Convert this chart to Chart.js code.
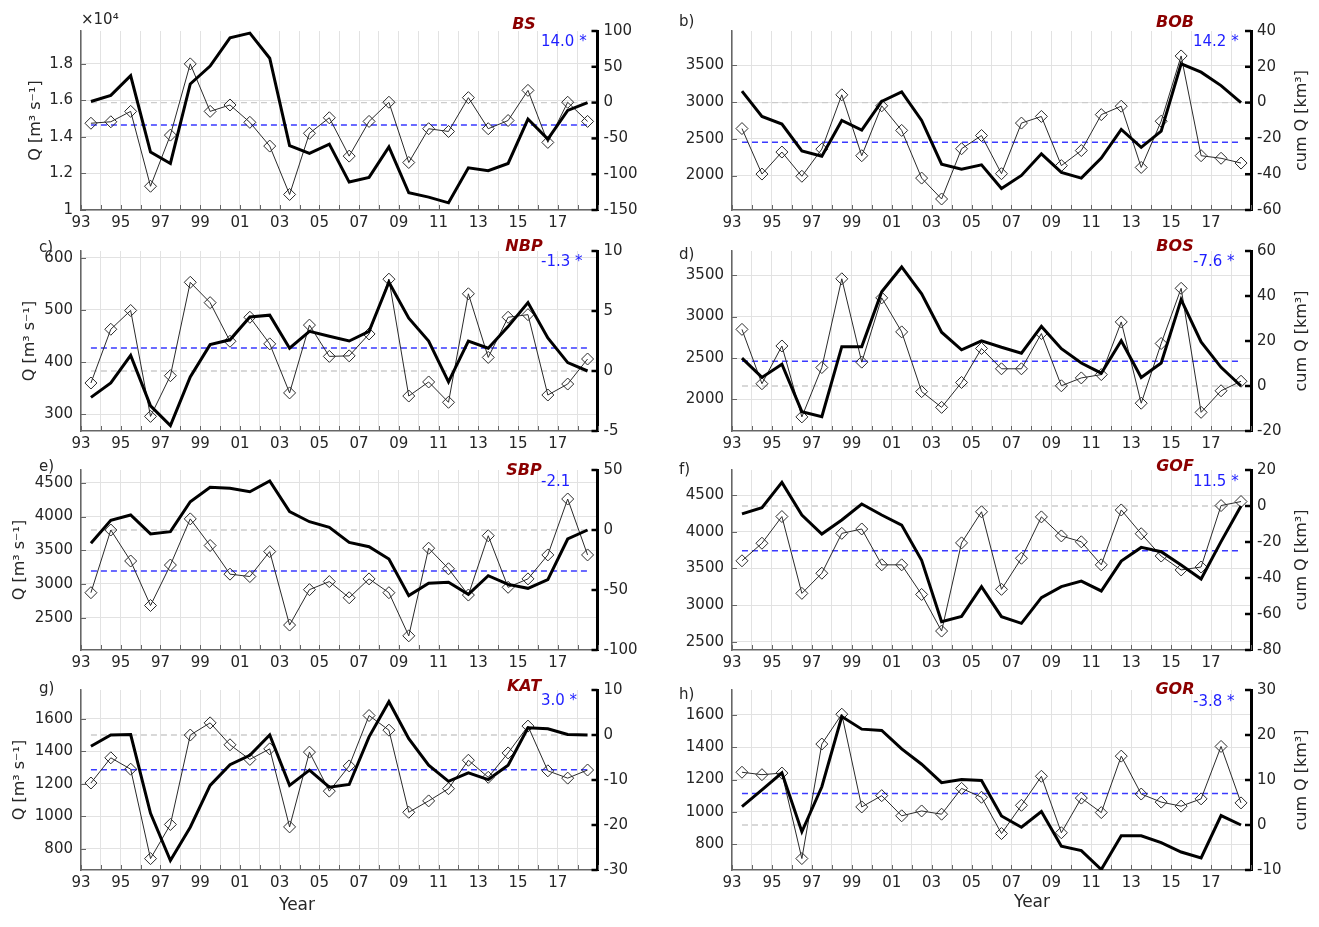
<!DOCTYPE html>
<html>
<head>
<meta charset="utf-8">
<script src="https://cdn.jsdelivr.net/npm/chart.js@4.4.1/dist/chart.umd.min.js"></script>
<style>
  html, body { margin: 0; padding: 0; background: #fff; }
  #fig { position: relative; width: 1319px; height: 927px; overflow: hidden; }
  #fig canvas { position: absolute; }
</style>
</head>
<body>
<div id="fig"></div>
<script>
'use strict'
{
  // ---- data ----
  const years = [1993, 1994, 1995, 1996, 1997, 1998, 1999, 2000, 2001, 2002, 2003, 2004, 2005,
                 2006, 2007, 2008, 2009, 2010, 2011, 2012, 2013, 2014, 2015, 2016, 2017, 2018];
  const xTickYears = [1993, 1994, 1995, 1996, 1997, 1998, 1999, 2000, 2001, 2002, 2003, 2004, 2005, 2006,
                      2007, 2008, 2009, 2010, 2011, 2012, 2013, 2014, 2015, 2016, 2017, 2018, 2019];
  const regions = ['BS', 'BOB', 'NBP', 'BOS', 'SBP', 'GOF', 'KAT', 'GOR'];
  const letters = ['', 'b)', 'c)', 'd)', 'e)', 'f)', 'g)', 'h)'];
  const trends = ['14.0 *', '14.2 *', '-1.3 *', '-7.6 *', '-2.1', '11.5 *', '3.0 *', '-3.8 *'];

  const qBS = [14750, 14830, 15400, 11300, 14100, 18000, 15400, 15750, 14800, 13500, 10850, 14200, 15050,
               12950, 14850, 15900, 12600, 14450, 14300, 16150, 14450, 14900, 16550, 13700, 15900, 14850];
  const cumBS = [1.5, 10, 37.5, -69, -85, 26, 51, 90.5, 97, 62, -60, -71, -58,
                 -111, -104.5, -62, -126, -132, -140, -91, -95, -85, -23, -51, -11, 0];
  const qBOB = [2640, 2020, 2320, 1990, 2360, 3100, 2270, 2950, 2615, 1965, 1680, 2365, 2545,
                2025, 2715, 2805, 2135, 2340, 2830, 2945, 2110, 2740, 3630, 2270, 2235, 2170];
  const cumBOB = [6.4, -7.7, -12, -27, -30, -10, -15.3, 0.7, 6, -10, -34.4, -37.2, -34.8,
                  -48, -40.7, -28.6, -39, -42.2, -31, -15, -25, -16, 21.7, 17, 9.5, 0];
  const qNBP = [360, 463, 499, 296, 374, 553, 514, 440, 486, 435, 341, 471, 411,
                412, 454, 559, 335, 362, 323, 531, 409, 486, 491, 337, 358, 406];
  const cumNBP = [-2.2, -1, 1.3, -2.9, -4.55, -0.5, 2.2, 2.6, 4.5, 4.65, 1.9, 3.3, 2.9,
                  2.5, 3.3, 7.4, 4.4, 2.5, -0.9, 2.5, 1.9, 3.7, 5.7, 2.75, 0.7, 0];
  const qBOS = [2845, 2190, 2645, 1790, 2385, 3455, 2450, 3225, 2815, 2095, 1905, 2205, 2615,
                2370, 2370, 2795, 2165, 2260, 2300, 2935, 1955, 2675, 3340, 1845, 2105, 2220];
  const cumBOS = [12.4, 3.8, 9.7, -11.4, -13.6, 17.5, 17.5, 41.9, 52.9, 41, 23.9, 16.1, 20.1,
                  17.2, 14.6, 26.5, 16.6, 10.2, 5.7, 20.1, 3.8, 10.2, 38.4, 19.6, 8.3, 0];
  const qSBP = [2870, 3800, 3340, 2680, 3280, 3965, 3570, 3145, 3110, 3480, 2390, 2915, 3035,
                2795, 3075, 2870, 2230, 3530, 3225, 2835, 3715, 2950, 3075, 3430, 4260, 3430];
  const cumSBP = [-11.1, 8.1, 12.5, -3.3, -1.4, 23.6, 35.6, 34.7, 31.9, 40.8, 15.3, 6.9, 2.2,
                  -10.3, -13.9, -24.2, -54.7, -44.4, -43.6, -53.6, -38.1, -45.3, -48.6, -41.4, -7.5, 0];
  const qGOF = [3605, 3845, 4210, 3160, 3435, 3980, 4040, 3550, 3550, 3145, 2645, 3850, 4275,
                3215, 3640, 4205, 3945, 3865, 3550, 4300, 3975, 3670, 3480, 3520, 4360, 4415];
  const cumGOF = [-4.4, -0.9, 13.1, -5, -15.6, -7.8, 1.1, -5, -10.6, -30.2, -64.3, -61.3, -44.8,
                  -61.5, -65.2, -50.9, -44.8, -41.7, -47.2, -30.6, -23, -25.4, -32.8, -40.6, -19.8, 0];
  const qKAT = [1205, 1360, 1290, 740, 950, 1500, 1575, 1440, 1350, 1415, 935, 1395, 1155,
                1310, 1620, 1530, 1025, 1095, 1170, 1345, 1240, 1390, 1555, 1280, 1235, 1285];
  const cumKAT = [-2.5, 0, 0.1, -17.4, -27.9, -20.5, -11.2, -6.6, -4.5, 0, -11.2, -7.8, -11.6,
                  -11, -0.4, 7.4, -0.8, -6.7, -10.3, -8.4, -9.9, -6.7, 1.6, 1.4, 0.1, 0];
  const qGOR = [1245, 1230, 1240, 710, 1420, 1605, 1030, 1100, 975, 1005, 985, 1145, 1090,
                865, 1040, 1220, 870, 1085, 995, 1345, 1110, 1060, 1035, 1080, 1405, 1055];
  const cumGOR = [4.1, 7.8, 11.6, -1.5, 8.5, 24.1, 21.3, 21, 16.9, 13.5, 9.4, 10.1, 9.9,
                  2, -0.5, 3, -4.7, -5.7, -9.9, -2.4, -2.4, -3.9, -6, -7.3, 2.1, 0];

  const qSeries = [qBS, qBOB, qNBP, qBOS, qSBP, qGOF, qKAT, qGOR];
  const cumSeries = [cumBS, cumBOB, cumNBP, cumBOS, cumSBP, cumGOF, cumKAT, cumGOR];
  const meanQ = [14650, 2452, 427, 2460, 3193, 3744, 1287, 1114];

  const qLimits = [[10000, 19800], [1530, 3970], [268, 613], [1620, 3790],
                   [2020, 4690], [2386, 4846], [670, 1777], [639, 1755]];
  const qTicks = [[10000, 12000, 14000, 16000, 18000], [2000, 2500, 3000, 3500],
                  [300, 400, 500, 600], [2000, 2500, 3000, 3500],
                  [2500, 3000, 3500, 4000, 4500], [2500, 3000, 3500, 4000, 4500],
                  [800, 1000, 1200, 1400, 1600], [800, 1000, 1200, 1400, 1600]];
  const cumLimits = [[-150, 100], [-60, 40], [-5, 10], [-20, 60],
                     [-100, 50], [-80, 20], [-30, 10], [-10, 30]];
  const cumTicks = [[-150, -100, -50, 0, 50, 100], [-60, -40, -20, 0, 20, 40],
                    [-5, 0, 5, 10], [-20, 0, 20, 40, 60],
                    [-100, -50, 0, 50], [-80, -60, -40, -20, 0, 20],
                    [-30, -20, -10, 0, 10], [-10, 0, 10, 20, 30]];

  // ---- layout (page pixels) ----
  const COLS = [{x0: 0, w: 660, left: 81, right: 597.5}, {x0: 660, w: 659, left: 732, right: 1251}];
  const ROWS = [{top: 31, bottom: 210}, {top: 251, bottom: 431}, {top: 470, bottom: 650}, {top: 690, bottom: 870}];
  const TEXTPOS = [
    {name: [524, 25], trend: [541, 42], letter: null, ylab: 36, exp: [81, 20]},
    {name: [1175, 23], trend: [1193, 42], letter: [679, 22]},
    {name: [524, 247], trend: [541, 262], letter: [39, 248], ylab: 30},
    {name: [1175, 247], trend: [1193, 262], letter: [679, 255]},
    {name: [524, 471], trend: [541, 482], letter: [39, 467], ylab: 20},
    {name: [1175, 467], trend: [1193, 482], letter: [679, 470]},
    {name: [524, 687], trend: [541, 701], letter: [39, 689], ylab: 20, xlab: [297, 906]},
    {name: [1175, 690], trend: [1193, 702], letter: [679, 695], xlab: [1032, 903]},
  ];

  const FONT = '"DejaVu Sans", "Liberation Sans", sans-serif';
  const TXT = '#262626';
  const fig = document.getElementById('fig');

  // inward ticks, axis titles and labels drawn on top
  const decor = {
    id: 'decor',
    afterDraw(chart, args, o) {
      const {ctx, chartArea: a, scales} = chart;
      const ox = o.ox, oy = o.oy, t = o.t;
      ctx.save();
      ctx.strokeStyle = '#666';
      ctx.lineWidth = 1;
      scales.x.ticks.forEach(tk => {
        const px = Math.round(scales.x.getPixelForValue(tk.value)) + 0.5;
        ctx.beginPath(); ctx.moveTo(px, a.bottom); ctx.lineTo(px, a.bottom - 5); ctx.stroke();
      });
      scales.y.ticks.forEach(tk => {
        const py = Math.round(scales.y.getPixelForValue(tk.value)) + 0.5;
        ctx.beginPath(); ctx.moveTo(a.left, py); ctx.lineTo(a.left + 5, py); ctx.stroke();
      });
      ctx.strokeStyle = '#000';
      ctx.lineWidth = 2.5;
      scales.y1.ticks.forEach(tk => {
        const py = scales.y1.getPixelForValue(tk.value);
        ctx.beginPath(); ctx.moveTo(a.right, py); ctx.lineTo(a.right - 6, py); ctx.stroke();
      });

      ctx.textBaseline = 'middle';
      // region name
      ctx.fillStyle = '#8b0000';
      ctx.font = 'italic bold 16px ' + FONT;
      ctx.textAlign = 'center';
      ctx.fillText(o.name, t.name[0] - ox, t.name[1] - oy);
      // trend value
      ctx.fillStyle = 'rgb(30,30,255)';
      ctx.font = '15px ' + FONT;
      ctx.textAlign = 'left';
      ctx.fillText(o.trend, t.trend[0] - ox, t.trend[1] - oy);
      ctx.fillStyle = TXT;
      if (t.letter) ctx.fillText(o.letter, t.letter[0] - ox, t.letter[1] - oy);
      if (t.exp) ctx.fillText('\u00d710\u2074', t.exp[0] - ox, t.exp[1] - oy);
      const midY = (a.top + a.bottom) / 2;
      ctx.font = '16px ' + FONT;
      ctx.textAlign = 'center';
      if (t.ylab) {
        ctx.save();
        ctx.translate(t.ylab - ox, midY);
        ctx.rotate(-Math.PI / 2);
        ctx.fillText('Q [m\u00b3 s\u207b\u00b9]', 0, 0);
        ctx.restore();
      } else {
        ctx.save();
        ctx.translate(1302 - ox, midY);
        ctx.rotate(-Math.PI / 2);
        ctx.fillText('cum Q [km\u00b3]', 0, 0);
        ctx.restore();
      }
      if (t.xlab) {
        ctx.font = '17px ' + FONT;
        ctx.fillText('Year', t.xlab[0] - ox, t.xlab[1] - oy);
      }
      ctx.restore();
    }
  };

  function makePanel(i) {
    const col = COLS[i % 2];
    const row = ROWS[Math.floor(i / 2)];
    const top0 = row.top - 31;
    const xAxisH = i >= 6 ? 927 - row.bottom : 30;
    const height = row.bottom - top0 + xAxisH;

    const cv = document.createElement('canvas');
    cv.width = col.w;
    cv.height = height;
    cv.style.left = col.x0 + 'px';
    cv.style.top = top0 + 'px';
    cv.style.width = col.w + 'px';
    cv.style.height = height + 'px';
    fig.appendChild(cv);

    const q = qSeries[i];
    const cum = cumSeries[i];
    const first = years[0] + 0.5;
    const last = years[years.length - 1] + 0.5;
    const tickFont = {family: FONT, size: 15};

    const data = {
      datasets: [
        {
          label: 'cum',
          data: years.map((y, k) => ({x: y + 0.5, y: cum[k]})),
          yAxisID: 'y1',
          borderColor: '#000',
          borderWidth: 3,
          pointRadius: 0,
        },
        {
          label: 'Q',
          data: years.map((y, k) => ({x: y + 0.5, y: q[k]})),
          yAxisID: 'y',
          borderColor: '#2a2a2a',
          borderWidth: 1,
          pointStyle: 'rectRot',
          pointRadius: 6,
          pointBorderColor: '#2a2a2a',
          pointBorderWidth: 1,
          pointBackgroundColor: 'rgba(255,255,255,0)',
        },
        {
          label: 'mean',
          data: [{x: first, y: meanQ[i]}, {x: last, y: meanQ[i]}],
          yAxisID: 'y',
          borderColor: '#3a3aff',
          borderWidth: 1.5,
          borderDash: [6, 4],
          pointRadius: 0,
        },
        {
          label: 'zero',
          data: [{x: first, y: 0}, {x: last, y: 0}],
          yAxisID: 'y1',
          borderColor: '#cccccc',
          borderWidth: 1.3,
          borderDash: [6, 4],
          pointRadius: 0,
        },
      ],
    };

    const options = {
      responsive: false,
      animation: false,
      devicePixelRatio: 1,
      layout: {padding: {top: 31, left: 0, right: 0, bottom: 0}},
      elements: {line: {tension: 0}},
      plugins: {
        legend: {display: false},
        tooltip: {enabled: false},
        decor: {
          ox: col.x0, oy: top0, t: TEXTPOS[i],
          name: regions[i], trend: trends[i], letter: letters[i],
        },
      },
      scales: {
        x: {
          type: 'linear',
          min: 1993,
          max: 2019,
          afterBuildTicks: s => { s.ticks = xTickYears.map(v => ({value: v})); },
          afterFit: s => { s.height = xAxisH; },
          ticks: {
            autoSkip: false,
            maxRotation: 0,
            padding: 4,
            color: TXT,
            font: tickFont,
            callback: v => (v % 2 === 1 && v <= 2017) ? String(v).slice(2) : '',
          },
          grid: {color: '#e2e2e2', drawTicks: false},
          border: {color: '#666', width: 1.5},
        },
        y: {
          position: 'left',
          min: qLimits[i][0],
          max: qLimits[i][1],
          afterBuildTicks: s => { s.ticks = qTicks[i].map(v => ({value: v})); },
          afterFit: s => { s.width = col.left - col.x0; },
          ticks: {
            padding: 8,
            color: TXT,
            font: tickFont,
            callback: v => i === 0 ? String(v / 10000) : String(v),
          },
          grid: {color: '#e2e2e2', drawTicks: false},
          border: {color: '#666', width: 1.5},
        },
        y1: {
          position: 'right',
          min: cumLimits[i][0],
          max: cumLimits[i][1],
          afterBuildTicks: s => { s.ticks = cumTicks[i].map(v => ({value: v})); },
          afterFit: s => { s.width = col.x0 + col.w - col.right; },
          ticks: {padding: 6, color: TXT, font: tickFont},
          grid: {drawOnChartArea: false, drawTicks: false},
          border: {color: '#000', width: 3},
        },
      },
    };

    new Chart(cv, {type: 'line', data: data, options: options, plugins: [decor]});
  }

  regions.forEach((r, i) => makePanel(i));
}
</script>
</body>
</html>
